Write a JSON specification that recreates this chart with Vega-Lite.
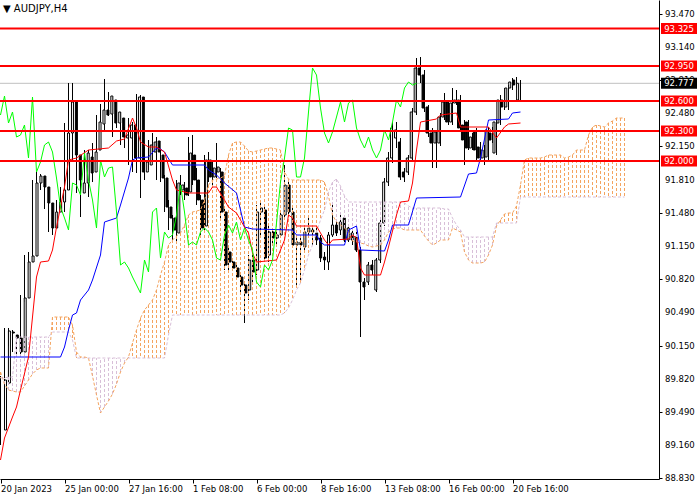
{
  "$schema": "https://vega.github.io/schema/vega-lite/v6.json",
  "width": 659,
  "height": 479,
  "autosize": {"type": "none"},
  "padding": {"left": 0, "top": 0, "right": 41, "bottom": 21},
  "background": "#ffffff",
  "title": {
    "text": "▼ AUDJPY,H4",
    "anchor": "start",
    "frame": "group",
    "offset": -14,
    "dx": 3,
    "font": "DejaVu Sans",
    "fontSize": 10,
    "fontWeight": "normal",
    "color": "#000000"
  },
  "datasets": {
    "candles": [
      {"k":0,"o":89.31,"h":89.85,"l":89.16,"c":89.81},
      {"k":1,"o":89.78,"h":90.33,"l":89.63,"c":90.30},
      {"k":2,"o":90.29,"h":90.33,"l":90.15,"c":90.28},
      {"k":3,"o":90.26,"h":90.31,"l":90.09,"c":90.23},
      {"k":4,"o":90.23,"h":90.26,"l":90.04,"c":90.09},
      {"k":5,"o":90.09,"h":90.66,"l":90.05,"c":90.63},
      {"k":6,"o":90.63,"h":91.06,"l":90.59,"c":90.99},
      {"k":7,"o":90.99,"h":91.09,"l":90.91,"c":91.05},
      {"k":8,"o":91.05,"h":91.81,"l":90.99,"c":91.78},
      {"k":9,"o":91.78,"h":91.89,"l":91.73,"c":91.85},
      {"k":10,"o":91.85,"h":91.87,"l":91.71,"c":91.74},
      {"k":11,"o":91.74,"h":91.77,"l":91.52,"c":91.58},
      {"k":12,"o":91.58,"h":91.61,"l":91.29,"c":91.33},
      {"k":13,"o":91.33,"h":91.53,"l":91.26,"c":91.49},
      {"k":14,"o":91.49,"h":91.61,"l":91.41,"c":91.59},
      {"k":15,"o":91.59,"h":91.74,"l":91.55,"c":91.71},
      {"k":16,"o":91.71,"h":92.38,"l":91.49,"c":92.28},
      {"k":17,"o":92.28,"h":92.78,"l":92.24,"c":92.59},
      {"k":18,"o":92.59,"h":92.78,"l":92.01,"c":92.06},
      {"k":19,"o":92.06,"h":92.11,"l":91.68,"c":91.81},
      {"k":20,"o":91.68,"h":91.83,"l":91.44,"c":91.78},
      {"k":21,"o":91.78,"h":92.11,"l":91.73,"c":92.08},
      {"k":22,"o":92.04,"h":92.11,"l":91.64,"c":91.88},
      {"k":23,"o":91.89,"h":92.18,"l":91.79,"c":92.09},
      {"k":24,"o":92.11,"h":92.46,"l":92.09,"c":92.39},
      {"k":25,"o":92.37,"h":92.57,"l":92.33,"c":92.51},
      {"k":26,"o":92.51,"h":92.82,"l":92.31,"c":92.46},
      {"k":27,"o":92.47,"h":92.69,"l":92.45,"c":92.65},
      {"k":28,"o":92.61,"h":92.64,"l":92.24,"c":92.38},
      {"k":29,"o":92.38,"h":92.51,"l":92.33,"c":92.49},
      {"k":30,"o":92.43,"h":92.49,"l":92.16,"c":92.24},
      {"k":31,"o":92.23,"h":92.34,"l":92.13,"c":92.26},
      {"k":32,"o":92.23,"h":92.43,"l":91.96,"c":92.36},
      {"k":33,"o":92.36,"h":92.39,"l":91.89,"c":92.03},
      {"k":34,"o":92.03,"h":92.67,"l":91.88,"c":92.64},
      {"k":35,"o":92.64,"h":92.66,"l":91.63,"c":91.89},
      {"k":36,"o":91.89,"h":92.14,"l":91.81,"c":91.99},
      {"k":37,"o":91.96,"h":92.21,"l":91.91,"c":92.16},
      {"k":38,"o":92.09,"h":92.28,"l":92.01,"c":92.19},
      {"k":39,"o":92.20,"h":92.24,"l":91.81,"c":92.09},
      {"k":40,"o":92.06,"h":92.11,"l":91.79,"c":91.83},
      {"k":41,"o":91.83,"h":91.86,"l":91.49,"c":91.54},
      {"k":42,"o":91.54,"h":91.61,"l":91.31,"c":91.43},
      {"k":43,"o":91.43,"h":91.46,"l":91.19,"c":91.31},
      {"k":44,"o":91.28,"h":91.81,"l":91.18,"c":91.78},
      {"k":45,"o":91.71,"h":91.86,"l":91.66,"c":91.76},
      {"k":46,"o":91.73,"h":91.79,"l":91.61,"c":91.66},
      {"k":47,"o":91.69,"h":92.24,"l":91.65,"c":92.08},
      {"k":48,"o":92.06,"h":92.26,"l":91.76,"c":91.81},
      {"k":49,"o":91.81,"h":91.93,"l":91.56,"c":91.61},
      {"k":50,"o":91.61,"h":91.66,"l":91.26,"c":91.33},
      {"k":51,"o":91.35,"h":92.06,"l":91.31,"c":92.01},
      {"k":52,"o":92.01,"h":92.09,"l":91.79,"c":91.84},
      {"k":53,"o":91.84,"h":92.01,"l":91.76,"c":91.93},
      {"k":54,"o":91.89,"h":92.18,"l":91.83,"c":91.94},
      {"k":55,"o":91.89,"h":91.93,"l":91.43,"c":91.49},
      {"k":56,"o":91.49,"h":91.53,"l":90.91,"c":90.96},
      {"k":57,"o":91.09,"h":91.16,"l":90.91,"c":90.99},
      {"k":58,"o":90.99,"h":91.03,"l":90.91,"c":90.93},
      {"k":59,"o":90.93,"h":90.96,"l":90.81,"c":90.84},
      {"k":60,"o":90.84,"h":90.88,"l":90.69,"c":90.76},
      {"k":61,"o":90.76,"h":90.79,"l":90.38,"c":90.68},
      {"k":62,"o":90.71,"h":91.06,"l":90.61,"c":91.01},
      {"k":63,"o":91.01,"h":91.06,"l":90.76,"c":90.89},
      {"k":64,"o":90.91,"h":91.56,"l":90.86,"c":91.49},
      {"k":65,"o":91.49,"h":91.61,"l":91.26,"c":91.53},
      {"k":66,"o":91.51,"h":91.56,"l":90.99,"c":91.03},
      {"k":67,"o":91.06,"h":91.35,"l":90.99,"c":91.29},
      {"k":68,"o":91.29,"h":91.33,"l":91.16,"c":91.23},
      {"k":69,"o":91.23,"h":91.31,"l":91.16,"c":91.26},
      {"k":70,"o":91.26,"h":91.51,"l":91.23,"c":91.46},
      {"k":71,"o":91.46,"h":91.96,"l":91.43,"c":91.76},
      {"k":72,"o":91.76,"h":91.81,"l":91.44,"c":91.49},
      {"k":73,"o":91.49,"h":91.53,"l":91.13,"c":91.16},
      {"k":74,"o":91.16,"h":91.26,"l":90.74,"c":91.19},
      {"k":75,"o":91.19,"h":91.26,"l":90.78,"c":91.16},
      {"k":76,"o":91.14,"h":91.33,"l":91.11,"c":91.29},
      {"k":77,"o":91.29,"h":91.43,"l":91.26,"c":91.33},
      {"k":78,"o":91.31,"h":91.36,"l":91.16,"c":91.29},
      {"k":79,"o":91.28,"h":91.33,"l":91.16,"c":91.21},
      {"k":80,"o":91.23,"h":91.26,"l":90.99,"c":91.03},
      {"k":81,"o":91.04,"h":91.09,"l":90.91,"c":91.01},
      {"k":82,"o":90.99,"h":91.29,"l":90.91,"c":91.26},
      {"k":83,"o":91.26,"h":91.56,"l":91.24,"c":91.36},
      {"k":84,"o":91.36,"h":91.41,"l":91.25,"c":91.28},
      {"k":85,"o":91.31,"h":91.48,"l":91.26,"c":91.39},
      {"k":86,"o":91.43,"h":91.46,"l":91.19,"c":91.21},
      {"k":87,"o":91.21,"h":91.36,"l":91.19,"c":91.33},
      {"k":88,"o":91.28,"h":91.31,"l":91.16,"c":91.21},
      {"k":89,"o":91.24,"h":91.29,"l":91.09,"c":91.11},
      {"k":90,"o":91.11,"h":91.14,"l":90.24,"c":90.79},
      {"k":91,"o":90.79,"h":90.83,"l":90.61,"c":90.74},
      {"k":92,"o":90.79,"h":90.99,"l":90.76,"c":90.96},
      {"k":93,"o":90.96,"h":91.01,"l":90.86,"c":90.91},
      {"k":94,"o":90.71,"h":91.03,"l":90.69,"c":91.01},
      {"k":95,"o":91.01,"h":91.41,"l":90.98,"c":91.38},
      {"k":96,"o":91.38,"h":91.83,"l":91.35,"c":91.79},
      {"k":97,"o":91.79,"h":92.09,"l":91.75,"c":92.03},
      {"k":98,"o":92.03,"h":92.39,"l":91.98,"c":92.33},
      {"k":99,"o":92.23,"h":92.39,"l":92.13,"c":92.31},
      {"k":100,"o":92.19,"h":92.23,"l":91.81,"c":91.84},
      {"k":101,"o":91.89,"h":91.93,"l":91.79,"c":91.84},
      {"k":102,"o":91.89,"h":92.06,"l":91.86,"c":92.03},
      {"k":103,"o":92.03,"h":92.53,"l":91.99,"c":92.49},
      {"k":104,"o":92.49,"h":93.03,"l":92.46,"c":92.93},
      {"k":105,"o":92.93,"h":93.04,"l":92.78,"c":92.86},
      {"k":106,"o":92.86,"h":92.91,"l":92.49,"c":92.53},
      {"k":107,"o":92.54,"h":92.56,"l":92.24,"c":92.28},
      {"k":108,"o":92.28,"h":92.33,"l":91.93,"c":92.18},
      {"k":109,"o":92.18,"h":92.31,"l":91.93,"c":92.29},
      {"k":110,"o":92.18,"h":92.48,"l":92.15,"c":92.44},
      {"k":111,"o":92.44,"h":92.68,"l":92.41,"c":92.59},
      {"k":112,"o":92.59,"h":92.61,"l":92.36,"c":92.39},
      {"k":113,"o":92.39,"h":92.73,"l":92.36,"c":92.58},
      {"k":114,"o":92.58,"h":92.71,"l":92.56,"c":92.61},
      {"k":115,"o":92.61,"h":92.66,"l":92.29,"c":92.33},
      {"k":116,"o":92.36,"h":92.41,"l":91.96,"c":92.21},
      {"k":117,"o":92.39,"h":92.41,"l":92.11,"c":92.13},
      {"k":118,"o":92.13,"h":92.28,"l":92.11,"c":92.24},
      {"k":119,"o":92.29,"h":92.33,"l":92.01,"c":92.11},
      {"k":120,"o":92.14,"h":92.19,"l":91.99,"c":92.03},
      {"k":121,"o":92.03,"h":92.16,"l":91.96,"c":92.11},
      {"k":122,"o":92.04,"h":92.34,"l":92.01,"c":92.31},
      {"k":123,"o":92.28,"h":92.34,"l":92.18,"c":92.21},
      {"k":124,"o":92.08,"h":92.41,"l":92.06,"c":92.39},
      {"k":125,"o":92.38,"h":92.66,"l":92.36,"c":92.61},
      {"k":126,"o":92.61,"h":92.73,"l":92.51,"c":92.54},
      {"k":127,"o":92.54,"h":92.76,"l":92.51,"c":92.73},
      {"k":128,"o":92.73,"h":92.83,"l":92.71,"c":92.79},
      {"k":129,"o":92.81,"h":92.84,"l":92.73,"c":92.76},
      {"k":130,"o":92.61,"h":92.81,"l":92.60,"c":92.777}
    ],
    "cloud": [
      {"k":0,"a":89.89,"b":89.83},{"k":1,"a":89.77,"b":89.83},{"k":2,"a":89.71,"b":89.84},{"k":3,"a":89.70,"b":89.84},
      {"k":4,"a":89.69,"b":90.24},{"k":5,"a":89.69,"b":90.24},{"k":6,"a":89.75,"b":90.24},{"k":7,"a":89.81,"b":90.24},
      {"k":8,"a":89.87,"b":90.24},{"k":9,"a":89.91,"b":90.24},{"k":10,"a":89.93,"b":90.24},{"k":11,"a":89.93,"b":90.24},
      {"k":12,"a":89.93,"b":90.24},{"k":13,"a":90.44,"b":90.29},{"k":14,"a":90.44,"b":90.29},{"k":15,"a":90.44,"b":90.29},
      {"k":16,"a":90.44,"b":90.29},{"k":17,"a":90.44,"b":90.29},{"k":18,"a":90.36,"b":90.21},{"k":19,"a":90.09,"b":90.03},
      {"k":20,"a":90.04,"b":90.03},{"k":21,"a":90.04,"b":90.03},{"k":22,"a":90.03,"b":90.03},{"k":23,"a":89.85,"b":90.03},
      {"k":24,"a":89.66,"b":90.03},{"k":25,"a":89.48,"b":90.03},{"k":26,"a":89.54,"b":90.03},{"k":27,"a":89.60,"b":90.03},
      {"k":28,"a":89.67,"b":90.03},{"k":29,"a":89.77,"b":90.03},{"k":30,"a":89.89,"b":90.03},{"k":31,"a":89.98,"b":90.03},
      {"k":32,"a":90.04,"b":90.03},{"k":33,"a":90.18,"b":90.03},{"k":34,"a":90.31,"b":90.03},{"k":35,"a":90.43,"b":90.03},
      {"k":36,"a":90.51,"b":90.03},{"k":37,"a":90.56,"b":90.03},{"k":38,"a":90.61,"b":90.03},{"k":39,"a":90.71,"b":90.03},
      {"k":40,"a":90.86,"b":90.03},{"k":41,"a":90.99,"b":90.03},{"k":42,"a":91.16,"b":90.26},{"k":43,"a":91.21,"b":90.46},
      {"k":44,"a":91.25,"b":90.46},{"k":45,"a":91.28,"b":90.46},{"k":46,"a":91.36,"b":90.46},{"k":47,"a":91.46,"b":90.46},
      {"k":48,"a":91.49,"b":90.46},{"k":49,"a":91.50,"b":90.46},{"k":50,"a":91.51,"b":90.46},{"k":51,"a":91.61,"b":90.46},
      {"k":52,"a":91.76,"b":90.46},{"k":53,"a":91.81,"b":90.46},{"k":54,"a":91.82,"b":90.46},{"k":55,"a":91.83,"b":90.46},
      {"k":56,"a":91.85,"b":90.46},{"k":57,"a":92.06,"b":90.46},{"k":58,"a":92.18,"b":90.46},{"k":59,"a":92.19,"b":90.46},
      {"k":60,"a":92.19,"b":90.46},{"k":61,"a":92.15,"b":90.46},{"k":62,"a":92.10,"b":90.46},{"k":63,"a":92.09,"b":90.46},
      {"k":64,"a":92.10,"b":90.46},{"k":65,"a":92.11,"b":90.46},{"k":66,"a":92.12,"b":90.46},{"k":67,"a":92.13,"b":90.46},
      {"k":68,"a":92.13,"b":90.46},{"k":69,"a":92.12,"b":90.46},{"k":70,"a":92.11,"b":90.46},{"k":71,"a":91.89,"b":90.48},
      {"k":72,"a":91.82,"b":90.53},{"k":73,"a":91.81,"b":90.61},{"k":74,"a":91.81,"b":90.71},{"k":75,"a":91.81,"b":90.78},
      {"k":76,"a":91.81,"b":90.91},{"k":77,"a":91.81,"b":91.06},{"k":78,"a":91.81,"b":91.16},{"k":79,"a":91.81,"b":91.29},
      {"k":80,"a":91.81,"b":91.41},{"k":81,"a":91.79,"b":91.51},{"k":82,"a":91.65,"b":91.69},{"k":83,"a":91.46,"b":91.79},
      {"k":84,"a":91.39,"b":91.82},{"k":85,"a":91.36,"b":91.75},{"k":86,"a":91.33,"b":91.65},{"k":87,"a":91.29,"b":91.59},
      {"k":88,"a":91.20,"b":91.59},{"k":89,"a":91.19,"b":91.59},{"k":90,"a":91.18,"b":91.59},{"k":91,"a":91.17,"b":91.59},
      {"k":92,"a":91.15,"b":91.59},{"k":93,"a":91.14,"b":91.59},{"k":94,"a":91.15,"b":91.59},{"k":95,"a":91.16,"b":91.59},
      {"k":96,"a":91.21,"b":91.59},{"k":97,"a":91.29,"b":91.59},{"k":98,"a":91.32,"b":91.59},{"k":99,"a":91.33,"b":91.59},
      {"k":100,"a":91.33,"b":91.59},{"k":101,"a":91.31,"b":91.58},{"k":102,"a":91.31,"b":91.55},{"k":103,"a":91.31,"b":91.53},
      {"k":104,"a":91.31,"b":91.53},{"k":105,"a":91.31,"b":91.53},{"k":106,"a":91.25,"b":91.53},{"k":107,"a":91.20,"b":91.53},
      {"k":108,"a":91.16,"b":91.53},{"k":109,"a":91.18,"b":91.53},{"k":110,"a":91.21,"b":91.53},{"k":111,"a":91.21,"b":91.52},
      {"k":112,"a":91.21,"b":91.52},{"k":113,"a":91.33,"b":91.43},{"k":114,"a":91.31,"b":91.36},{"k":115,"a":91.29,"b":91.31},
      {"k":116,"a":91.09,"b":91.24},{"k":117,"a":91.01,"b":91.24},{"k":118,"a":90.98,"b":91.24},{"k":119,"a":90.98,"b":91.24},
      {"k":120,"a":90.98,"b":91.24},{"k":121,"a":90.99,"b":91.24},{"k":122,"a":91.06,"b":91.24},{"k":123,"a":91.16,"b":91.24},
      {"k":124,"a":91.35,"b":91.38},{"k":125,"a":91.41,"b":91.38},{"k":126,"a":91.47,"b":91.38},{"k":127,"a":91.48,"b":91.38},
      {"k":128,"a":91.48,"b":91.38},{"k":129,"a":91.55,"b":91.38},{"k":130,"a":91.76,"b":91.64},{"k":131,"a":92.01,"b":91.64},
      {"k":132,"a":92.03,"b":91.64},{"k":133,"a":92.03,"b":91.64},{"k":134,"a":92.03,"b":91.64},{"k":135,"a":92.03,"b":91.64},
      {"k":136,"a":92.04,"b":91.64},{"k":137,"a":92.06,"b":91.64},{"k":138,"a":92.06,"b":91.64},{"k":139,"a":92.06,"b":91.64},
      {"k":140,"a":92.06,"b":91.64},{"k":141,"a":92.03,"b":91.64},{"k":142,"a":92.04,"b":91.64},{"k":143,"a":92.06,"b":91.64},
      {"k":144,"a":92.11,"b":91.64},{"k":145,"a":92.11,"b":91.64},{"k":146,"a":92.11,"b":91.64},{"k":147,"a":92.26,"b":91.64},
      {"k":148,"a":92.34,"b":91.64},{"k":149,"a":92.36,"b":91.64},{"k":150,"a":92.35,"b":91.64},{"k":151,"a":92.34,"b":91.64},
      {"k":152,"a":92.38,"b":91.64},{"k":153,"a":92.40,"b":91.64},{"k":154,"a":92.43,"b":91.64},{"k":155,"a":92.43,"b":91.64},
      {"k":156,"a":92.43,"b":91.64}
    ],
    "tenkan": [
      {"k":0,"v":89.01},{"k":1,"v":89.23},{"k":3,"v":89.44},{"k":4,"v":89.54},{"k":5,"v":89.71},{"k":7,"v":90.04},
      {"k":8,"v":90.44},{"k":9,"v":90.84},{"k":10,"v":90.99},{"k":12,"v":91.00},{"k":13,"v":91.11},{"k":14,"v":91.34},
      {"k":16,"v":91.74},{"k":17,"v":92.01},{"k":19,"v":92.03},{"k":22,"v":92.11},{"k":27,"v":92.13},{"k":29,"v":92.20},
      {"k":31,"v":92.22},{"k":33,"v":92.43},{"k":34,"v":92.33},{"k":35,"v":92.19},{"k":37,"v":92.14},{"k":39,"v":92.14},
      {"k":41,"v":92.09},{"k":43,"v":91.81},{"k":44,"v":91.71},{"k":47,"v":91.68},{"k":52,"v":91.68},{"k":53,"v":91.74},
      {"k":54,"v":91.74},{"k":56,"v":91.61},{"k":57,"v":91.54},{"k":59,"v":91.48},{"k":61,"v":91.34},{"k":62,"v":91.28},
      {"k":63,"v":91.08},{"k":64,"v":90.99},{"k":69,"v":91.01},{"k":71,"v":91.21},{"k":72,"v":91.46},{"k":73,"v":91.43},
      {"k":74,"v":91.35},{"k":79,"v":91.35},{"k":81,"v":91.21},{"k":82,"v":91.16},{"k":83,"v":91.21},{"k":87,"v":91.22},
      {"k":88,"v":91.26},{"k":89,"v":91.23},{"k":90,"v":90.93},{"k":91,"v":90.86},{"k":95,"v":90.86},{"k":96,"v":90.99},
      {"k":97,"v":91.14},{"k":99,"v":91.46},{"k":100,"v":91.59},{"k":102,"v":91.60},{"k":103,"v":91.78},{"k":104,"v":92.11},
      {"k":105,"v":92.39},{"k":109,"v":92.42},{"k":110,"v":92.46},{"k":114,"v":92.48},{"k":115,"v":92.34},{"k":122,"v":92.34},
      {"k":124,"v":92.23},{"k":126,"v":92.34},{"k":127,"v":92.37},{"k":130,"v":92.38}
    ],
    "kijun": [
      {"k":0,"v":90.04},{"k":15,"v":90.04},{"k":16,"v":90.14},{"k":17,"v":90.31},{"k":18,"v":90.46},{"k":19,"v":90.48},
      {"k":20,"v":90.61},{"k":22,"v":90.71},{"k":23,"v":90.81},{"k":25,"v":91.06},{"k":26,"v":91.39},{"k":29,"v":91.43},
      {"k":30,"v":91.56},{"k":32,"v":91.83},{"k":33,"v":92.01},{"k":34,"v":92.03},{"k":37,"v":92.04},{"k":39,"v":92.13},
      {"k":40,"v":92.12},{"k":41,"v":92.09},{"k":43,"v":91.96},{"k":51,"v":91.96},{"k":52,"v":91.91},{"k":54,"v":91.86},
      {"k":56,"v":91.78},{"k":59,"v":91.68},{"k":61,"v":91.34},{"k":63,"v":91.32},{"k":73,"v":91.31},{"k":74,"v":91.26},
      {"k":79,"v":91.26},{"k":80,"v":91.19},{"k":81,"v":91.16},{"k":86,"v":91.16},{"k":87,"v":91.31},{"k":89,"v":91.35},
      {"k":90,"v":91.11},{"k":96,"v":91.10},{"k":97,"v":91.21},{"k":98,"v":91.36},{"k":102,"v":91.36},{"k":104,"v":91.63},
      {"k":115,"v":91.64},{"k":117,"v":91.87},{"k":119,"v":91.88},{"k":120,"v":92.03},{"k":122,"v":92.41},{"k":127,"v":92.42},
      {"k":128,"v":92.48},{"k":130,"v":92.49}
    ],
    "levels": [
      {"p":93.325,"kind":"level"},
      {"p":92.95,"kind":"level"},
      {"p":92.6,"kind":"level"},
      {"p":92.3,"kind":"level"},
      {"p":92.0,"kind":"level"},
      {"p":92.777,"kind":"bid"}
    ],
    "priceticks": [
      {"p":93.47},{"p":93.14},{"p":92.81},{"p":92.48},{"p":92.15},{"p":91.81},{"p":91.48},{"p":91.15},
      {"p":90.82},{"p":90.49},{"p":90.15},{"p":89.82},{"p":89.49},{"p":89.16},{"p":88.83}
    ]
  },
  "layer": [
    {
      "data": {"name": "levels"},
      "transform": [{"filter": "datum.kind == 'bid'"}],
      "mark": {"type": "rule", "color": "#c0c0c0", "strokeWidth": 1},
      "encoding": {
        "y": {
          "field": "p", "type": "quantitative",
          "scale": {"domain": [88.82, 93.61], "nice": false, "zero": false},
          "axis": {
            "orient": "right",
            "values": [93.47, 93.14, 92.81, 92.48, 92.15, 91.81, 91.48, 91.15, 90.82, 90.49, 90.15, 89.82, 89.49, 89.16, 88.83],
            "labels": false, "title": null, "grid": false, "tickSize": 3, "tickColor": "#000000",
            "domainColor": "#000000"
          }
        }
      }
    },
    {
      "data": {"name": "candles"},
      "mark": {"type": "rule", "color": "#000000", "strokeWidth": 1},
      "encoding": {
        "x": {
          "field": "k", "type": "quantitative",
          "scale": {"domain": [-0.125, 164.625], "nice": false, "zero": false},
          "axis": {
            "values": [0, 16, 32, 48, 64, 80, 96, 112, 128],
            "labelExpr": "['20 Jan 2023','25 Jan 00:00','27 Jan 16:00','1 Feb 08:00','6 Feb 00:00','8 Feb 16:00','13 Feb 08:00','16 Feb 00:00','20 Feb 16:00'][round(datum.value / 16)]",
            "title": null, "grid": false, "tickSize": 4, "tickColor": "#000000",
            "domainColor": "#000000", "labelAlign": "left", "labelFlush": false,
            "labelPadding": 1, "labelFont": "DejaVu Sans", "labelFontSize": 8.5,
            "labelColor": "#000000", "labelOverlap": false
          }
        },
        "y": {"field": "l", "type": "quantitative", "scale": {"domain": [88.82, 93.61], "nice": false, "zero": false}},
        "y2": {"field": "h"}
      }
    },
    {
      "data": {"name": "candles"},
      "mark": {"type": "bar", "width": 2, "stroke": "#000000", "strokeWidth": 1},
      "encoding": {
        "x": {"field": "k", "type": "quantitative", "scale": {"domain": [-0.125, 164.625], "nice": false, "zero": false}, "axis": null},
        "y": {"field": "o", "type": "quantitative", "scale": {"domain": [88.82, 93.61], "nice": false, "zero": false}},
        "y2": {"field": "c"},
        "fill": {"condition": {"test": "datum.c >= datum.o", "value": "#ffffff"}, "value": "#000000"}
      }
    },
    {
      "data": {"name": "cloud"},
      "mark": {"type": "rule", "strokeWidth": 1, "strokeDash": [3, 2]},
      "encoding": {
        "x": {"field": "k", "type": "quantitative", "scale": {"domain": [-0.125, 164.625], "nice": false, "zero": false}, "axis": null},
        "y": {"field": "a", "type": "quantitative", "scale": {"domain": [88.82, 93.61], "nice": false, "zero": false}},
        "y2": {"field": "b"},
        "stroke": {"condition": {"test": "datum.a >= datum.b", "value": "#f4a460"}, "value": "#d8bfd8"}
      }
    },
    {
      "data": {"name": "cloud"},
      "mark": {"type": "line", "color": "#f4a460", "strokeWidth": 1, "strokeDash": [3, 2]},
      "encoding": {
        "x": {"field": "k", "type": "quantitative", "scale": {"domain": [-0.125, 164.625], "nice": false, "zero": false}, "axis": null},
        "y": {"field": "a", "type": "quantitative", "scale": {"domain": [88.82, 93.61], "nice": false, "zero": false}}
      }
    },
    {
      "data": {"name": "cloud"},
      "mark": {"type": "line", "color": "#d8bfd8", "strokeWidth": 1, "strokeDash": [3, 2]},
      "encoding": {
        "x": {"field": "k", "type": "quantitative", "scale": {"domain": [-0.125, 164.625], "nice": false, "zero": false}, "axis": null},
        "y": {"field": "b", "type": "quantitative", "scale": {"domain": [88.82, 93.61], "nice": false, "zero": false}}
      }
    },
    {
      "data": {"name": "kijun"},
      "mark": {"type": "line", "color": "#0000ff", "strokeWidth": 1},
      "encoding": {
        "x": {"field": "k", "type": "quantitative", "scale": {"domain": [-0.125, 164.625], "nice": false, "zero": false}, "axis": null},
        "y": {"field": "v", "type": "quantitative", "scale": {"domain": [88.82, 93.61], "nice": false, "zero": false}}
      }
    },
    {
      "data": {"name": "tenkan"},
      "mark": {"type": "line", "color": "#ff0000", "strokeWidth": 1},
      "encoding": {
        "x": {"field": "k", "type": "quantitative", "scale": {"domain": [-0.125, 164.625], "nice": false, "zero": false}, "axis": null},
        "y": {"field": "v", "type": "quantitative", "scale": {"domain": [88.82, 93.61], "nice": false, "zero": false}}
      }
    },
    {
      "data": {"name": "candles"},
      "mark": {"type": "line", "color": "#00ff00", "strokeWidth": 1},
      "encoding": {
        "x": {"field": "k", "type": "quantitative", "scale": {"domain": [25.875, 190.625], "nice": false, "zero": false}, "axis": null},
        "y": {"field": "c", "type": "quantitative", "scale": {"domain": [88.82, 93.61], "nice": false, "zero": false}}
      }
    },
    {
      "data": {"name": "levels"},
      "transform": [{"filter": "datum.kind == 'level'"}],
      "mark": {"type": "rule", "color": "#ff0000", "strokeWidth": 2},
      "encoding": {
        "y": {"field": "p", "type": "quantitative", "scale": {"domain": [88.82, 93.61], "nice": false, "zero": false}}
      }
    },
    {
      "data": {"name": "priceticks"},
      "mark": {"type": "text", "dx": 6, "align": "left", "baseline": "middle", "color": "#000000", "font": "DejaVu Sans", "fontSize": 8.5},
      "encoding": {
        "x": {"value": "width"},
        "y": {"field": "p", "type": "quantitative", "scale": {"domain": [88.82, 93.61], "nice": false, "zero": false}},
        "text": {"field": "p", "type": "quantitative", "format": ".3f"}
      }
    },
    {
      "data": {"name": "levels"},
      "mark": {"type": "rect", "xOffset": 2, "x2Offset": 38, "yOffset": -5.5, "y2Offset": 5.5},
      "encoding": {
        "x": {"value": "width"},
        "x2": {"value": "width"},
        "y": {"field": "p", "type": "quantitative", "scale": {"domain": [88.82, 93.61], "nice": false, "zero": false}},
        "y2": {"field": "p"},
        "fill": {"field": "kind", "type": "nominal", "scale": {"domain": ["level", "bid"], "range": ["#ff0000", "#000000"]}, "legend": null}
      }
    },
    {
      "data": {"name": "levels"},
      "mark": {"type": "text", "dx": 20, "align": "center", "baseline": "middle", "color": "#ffffff", "font": "DejaVu Sans", "fontSize": 8.5},
      "encoding": {
        "x": {"value": "width"},
        "y": {"field": "p", "type": "quantitative", "scale": {"domain": [88.82, 93.61], "nice": false, "zero": false}},
        "text": {"field": "p", "type": "quantitative", "format": ".3f"}
      }
    }
  ],
  "resolve": {"scale": {"x": "independent"}},
  "config": {
    "view": {"stroke": null}
  }
}
